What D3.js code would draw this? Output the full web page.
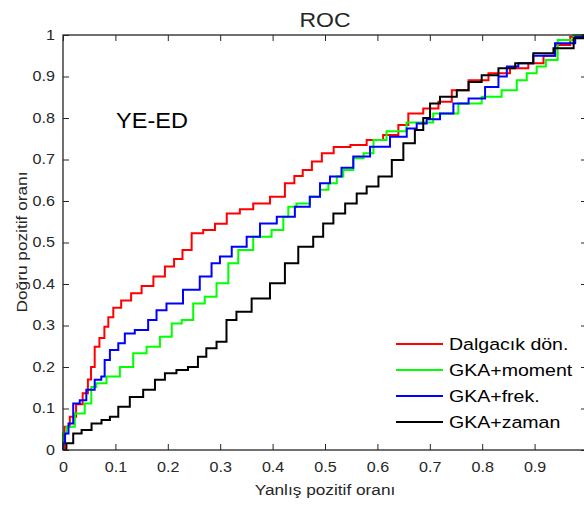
<!DOCTYPE html>
<html>
<head>
<meta charset="utf-8">
<script src="https://cdn.jsdelivr.net/npm/d3@7"></script>
<style>
  body { margin: 0; background: #fff; }
  text { font-family: "Liberation Sans", Arial, Helvetica, sans-serif; fill: #262626; }
</style>
</head>
<body>
<div class="roc"></div>
<script>
// ROC curve data (false positive rate, true positive rate)
const dalgacikRoc = [[0,0],[0.006,0.056],[0.02,0.08],[0.03,0.11],[0.045,0.137],[0.05,0.17],[0.057,0.2],[0.064,0.249],[0.075,0.27],[0.083,0.297],[0.09,0.32],[0.102,0.343],[0.12,0.36],[0.14,0.378],[0.16,0.395],[0.185,0.418],[0.204,0.442],[0.22,0.46],[0.236,0.482],[0.255,0.522],[0.28,0.53],[0.3,0.545],[0.325,0.57],[0.35,0.58],[0.376,0.594],[0.414,0.61],[0.433,0.643],[0.45,0.66],[0.465,0.675],[0.485,0.695],[0.503,0.715],[0.53,0.73],[0.567,0.735],[0.592,0.747],[0.63,0.759],[0.65,0.783],[0.668,0.811],[0.707,0.823],[0.726,0.839],[0.758,0.867],[0.79,0.891],[0.834,0.908],[0.872,0.92],[0.904,0.932],[0.93,0.95],[0.949,0.976],[0.987,0.996],[1,1]];
const momentRoc = [[0,0],[0,0.04],[0.013,0.056],[0.032,0.088],[0.051,0.112],[0.057,0.152],[0.07,0.161],[0.096,0.177],[0.121,0.2],[0.147,0.233],[0.172,0.249],[0.198,0.273],[0.217,0.305],[0.236,0.313],[0.261,0.353],[0.28,0.369],[0.306,0.402],[0.325,0.45],[0.344,0.482],[0.382,0.514],[0.414,0.53],[0.427,0.562],[0.433,0.586],[0.458,0.594],[0.484,0.61],[0.497,0.627],[0.516,0.643],[0.529,0.659],[0.541,0.675],[0.567,0.703],[0.58,0.715],[0.605,0.747],[0.63,0.768],[0.681,0.789],[0.732,0.811],[0.777,0.835],[0.821,0.851],[0.853,0.867],[0.879,0.891],[0.891,0.908],[0.917,0.924],[0.926,0.94],[0.962,0.988],[0.987,1],[1,1]];
const frekRoc = [[0,0],[0,0.016],[0.008,0.04],[0.013,0.064],[0.026,0.112],[0.038,0.12],[0.051,0.145],[0.07,0.169],[0.076,0.177],[0.083,0.217],[0.096,0.241],[0.115,0.257],[0.121,0.281],[0.153,0.289],[0.172,0.313],[0.185,0.337],[0.21,0.353],[0.248,0.386],[0.274,0.418],[0.293,0.45],[0.306,0.466],[0.338,0.49],[0.363,0.514],[0.389,0.546],[0.427,0.562],[0.458,0.586],[0.484,0.61],[0.497,0.643],[0.522,0.659],[0.541,0.68],[0.567,0.707],[0.605,0.731],[0.643,0.755],[0.669,0.775],[0.681,0.787],[0.707,0.797],[0.732,0.811],[0.758,0.835],[0.79,0.847],[0.821,0.875],[0.841,0.9],[0.853,0.924],[0.885,0.932],[0.91,0.95],[0.968,0.98],[0.987,0.996],[1,1]];
const zamanRoc = [[0,0],[0.013,0.016],[0.026,0.04],[0.045,0.048],[0.064,0.064],[0.083,0.072],[0.096,0.08],[0.115,0.104],[0.14,0.128],[0.166,0.145],[0.185,0.169],[0.204,0.185],[0.229,0.193],[0.248,0.2],[0.267,0.225],[0.28,0.245],[0.306,0.261],[0.318,0.313],[0.344,0.333],[0.376,0.365],[0.414,0.402],[0.433,0.45],[0.465,0.49],[0.49,0.514],[0.503,0.546],[0.529,0.57],[0.548,0.594],[0.573,0.618],[0.586,0.635],[0.618,0.659],[0.637,0.699],[0.662,0.739],[0.681,0.771],[0.694,0.8],[0.707,0.835],[0.732,0.851],[0.771,0.867],[0.777,0.887],[0.821,0.903],[0.841,0.92],[0.885,0.932],[0.91,0.956],[0.962,0.968],[0.987,0.992],[1,1]];

const seriesNames = ["Dalgacık dön.", "GKA+moment", "GKA+frek.", "GKA+zaman"];
const seriesColors = ["#ff0000", "#00ff00", "#0000ff", "#000000"];
const xTicks = [0, 0.1, 0.2, 0.3, 0.4, 0.5, 0.6, 0.7, 0.8, 0.9];
const yTicks = [0, 0.1, 0.2, 0.3, 0.4, 0.5, 0.6, 0.7, 0.8, 0.9, 1];

const width = 584, height = 507;
const box = { left: 63, right: 587, top: 35, bottom: 450 };
const stretch = "scale(1.15,1)";

const svg = d3.select(".roc").append("svg")
    .attr("width", width)
    .attr("height", height);

const x = d3.scaleLinear().domain([0, 1]).range([box.left, box.right]);
const y = d3.scaleLinear().domain([0, 1]).range([box.bottom, box.top]);

// Curves
const line = d3.line()
    .x(d => x(d[0]))
    .y(d => y(d[1]))
    .curve(d3.curveStep);

[dalgacikRoc, momentRoc, frekRoc, zamanRoc].forEach((data, i) => {
    svg.append("path")
        .datum(data)
        .attr("fill", "none")
        .attr("stroke", seriesColors[i])
        .attr("stroke-width", 2)
        .attr("d", line);
});

// Axes (MATLAB style: box with inward ticks)
const fmt = d3.format("");
svg.append("g")
    .attr("transform", `translate(0,${box.bottom})`)
    .call(d3.axisBottom(x).tickValues(xTicks).tickFormat(fmt).tickSizeInner(-6).tickSizeOuter(0).tickPadding(12))
    .call(g => g.select(".domain").remove());
svg.append("g")
    .attr("transform", `translate(0,${box.top})`)
    .call(d3.axisTop(x).tickValues(xTicks).tickFormat("").tickSizeInner(-6).tickSizeOuter(0))
    .call(g => g.select(".domain").remove());
svg.append("g")
    .attr("transform", `translate(${box.left},0)`)
    .call(d3.axisLeft(y).tickValues(yTicks).tickFormat(fmt).tickSizeInner(-6).tickSizeOuter(0).tickPadding(7))
    .call(g => g.select(".domain").remove());
svg.append("g")
    .attr("transform", `translate(${box.right},0)`)
    .call(d3.axisRight(y).tickValues(yTicks).tickFormat("").tickSizeInner(-6).tickSizeOuter(0))
    .call(g => g.select(".domain").remove());

svg.selectAll(".tick line").attr("stroke", "#262626");
svg.selectAll(".tick text")
    .attr("font-size", "14px")
    .attr("fill", "#262626")
    .attr("transform", stretch);
svg.selectAll("g").attr("font-family", null).attr("font-size", null);

svg.append("rect")
    .attr("x", box.left).attr("y", box.top)
    .attr("width", box.right - box.left).attr("height", box.bottom - box.top)
    .attr("fill", "none")
    .attr("stroke", "#262626")
    .attr("stroke-width", 1.3);

// Title and labels
function label(str, tx, ty, size, rot) {
    svg.append("text")
        .attr("transform", `translate(${tx},${ty})` + (rot ? ` rotate(${rot})` : "") + " " + stretch)
        .attr("text-anchor", "middle")
        .style("font-size", size + "px")
        .text(str);
}
label("ROC", 325, 27, 20);
label("Yanlış pozitif oranı", 325, 495, 15);
label("Doğru pozitif oranı", 27, 242, 15, -90);

svg.append("text")
    .attr("transform", `translate(116,128) scale(1.07,1)`)
    .style("font-size", "22px")
    .style("fill", "#000")
    .text("YE-ED");

// Legend
const legend = svg.append("g").attr("transform", "translate(396,344)");
seriesNames.forEach((name, i) => {
    const ly = i * 26;
    legend.append("line")
        .attr("x1", 0).attr("x2", 47)
        .attr("y1", ly).attr("y2", ly)
        .attr("stroke", seriesColors[i])
        .attr("stroke-width", 2);
    legend.append("text")
        .attr("transform", `translate(53,${ly + 6}) ${stretch}`)
        .style("font-size", "17px")
        .style("fill", "#000")
        .text(name);
});
</script>
</body>
</html>
